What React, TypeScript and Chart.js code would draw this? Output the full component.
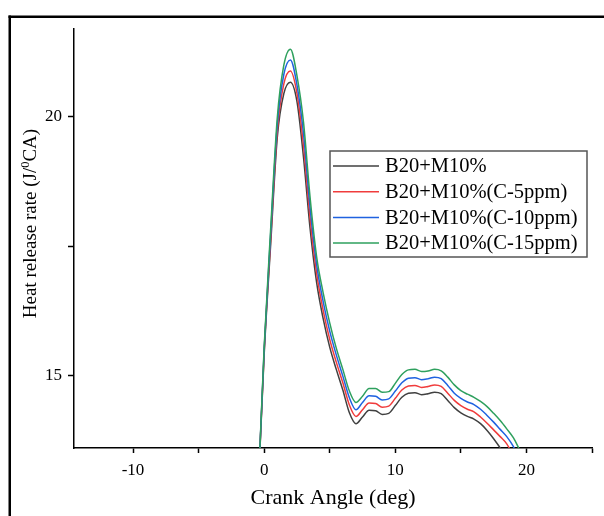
import React, { useEffect, useRef } from 'react';
import { Chart, registerables } from 'chart.js';

Chart.register(...registerables);

const crankAngles = [-0.5, 0, 0.5, 1, 1.5, 2, 2.5, 3, 3.5, 4, 4.5, 5, 5.5, 6, 6.5, 7, 7.5, 8, 8.5, 9, 9.5, 10, 10.5, 11, 11.5, 12, 12.5, 13, 13.5, 14, 14.5, 15, 15.5, 16, 16.5, 17, 17.5, 18, 18.5, 19, 19.5, 20];

const b20m10 = [12.5, 15.4, 17.55, 19.6, 20.45, 20.67, 20.3, 19.22, 17.85, 16.8, 16.1, 15.55, 15.12, 14.72, 14.28, 14.07, 14.2, 14.33, 14.32, 14.25, 14.27, 14.42, 14.58, 14.66, 14.67, 14.63, 14.65, 14.68, 14.65, 14.52, 14.38, 14.28, 14.21, 14.16, 14.07, 13.94, 13.78, 13.6, 13.38, 13.15, 12.9, 12.7];
const c5ppm = [12.5, 15.45, 17.65, 19.72, 20.64, 20.89, 20.46, 19.45, 18.05, 16.98, 16.26, 15.7, 15.26, 14.86, 14.43, 14.21, 14.34, 14.47, 14.46, 14.39, 14.41, 14.56, 14.72, 14.8, 14.81, 14.77, 14.79, 14.82, 14.79, 14.66, 14.52, 14.42, 14.35, 14.3, 14.2, 14.08, 13.95, 13.82, 13.68, 13.45, 13.2, 12.95];
const c10ppm = [12.5, 15.5, 17.75, 19.85, 20.82, 21.1, 20.62, 19.68, 18.25, 17.15, 16.43, 15.86, 15.4, 14.99, 14.57, 14.34, 14.48, 14.61, 14.6, 14.53, 14.55, 14.7, 14.86, 14.95, 14.96, 14.92, 14.94, 14.97, 14.94, 14.81, 14.66, 14.56, 14.49, 14.44, 14.35, 14.23, 14.1, 13.96, 13.82, 13.63, 13.35, 13.05];
const c15ppm = [12.5, 15.55, 17.85, 19.98, 21.0, 21.31, 20.8, 19.9, 18.45, 17.3, 16.6, 16.02, 15.53, 15.12, 14.7, 14.48, 14.6, 14.75, 14.75, 14.68, 14.69, 14.85, 15.02, 15.11, 15.12, 15.08, 15.09, 15.12, 15.09, 14.97, 14.82, 14.71, 14.64, 14.58, 14.5, 14.4, 14.27, 14.13, 13.97, 13.8, 13.55, 13.25];

const seriesLabels = ['B20+M10%', 'B20+M10%(C-5ppm)', 'B20+M10%(C-10ppm)', 'B20+M10%(C-15ppm)'];
const seriesColors = ['#404040', '#f03c3c', '#1f62e0', '#2ea05e'];
const xTickLabels = [-10, 0, 10, 20];
const yTickLabels = [15, 20];
const xTitle = 'Crank Angle (deg)';
const yTitleMain = 'Heat release rate (J/';
const yTitleSup = '0';
const yTitleEnd = 'CA)';

const FAMILY = '"Liberation Serif", "Times New Roman", serif';

const decorPlugin = {
  id: 'decor',
  afterDraw(chart: any) {
    const ctx = chart.ctx as CanvasRenderingContext2D;
    const area = chart.chartArea;
    ctx.save();
    // outer frame (top and left visible)
    ctx.fillStyle = '#000';
    ctx.fillRect(8.5, 15.5, 600, 2.5);
    ctx.fillRect(8.5, 15.5, 2.5, 510);

    // x title
    ctx.fillStyle = '#000';
    ctx.font = `22px ${FAMILY}`;
    ctx.textAlign = 'center';
    ctx.textBaseline = 'alphabetic';
    ctx.fillText(xTitle, (area.left + area.right) / 2, 504);

    // y title with superscript
    ctx.save();
    ctx.translate(36, 223.5);
    ctx.rotate(-Math.PI / 2);
    const mainFont = `19px ${FAMILY}`;
    const supFont = `12.5px ${FAMILY}`;
    ctx.textAlign = 'left';
    ctx.font = mainFont;
    const w1 = ctx.measureText(yTitleMain).width;
    const w3 = ctx.measureText(yTitleEnd).width;
    ctx.font = supFont;
    const w2 = ctx.measureText(yTitleSup).width;
    const total = w1 + w2 + w3;
    const x0 = -total / 2;
    ctx.font = mainFont;
    ctx.fillText(yTitleMain, x0, 0);
    ctx.font = supFont;
    ctx.fillText(yTitleSup, x0 + w1, -7.5);
    ctx.font = mainFont;
    ctx.fillText(yTitleEnd, x0 + w1 + w2, 0);
    ctx.restore();

    // legend
    const bx = 330, by = 151, bw = 257, bh = 106;
    ctx.fillStyle = '#fff';
    ctx.fillRect(bx, by, bw, bh);
    ctx.strokeStyle = '#555';
    ctx.lineWidth = 1.5;
    ctx.strokeRect(bx, by, bw, bh);
    ctx.font = `20.5px ${FAMILY}`;
    ctx.textAlign = 'left';
    ctx.textBaseline = 'middle';
    seriesLabels.forEach((label, i) => {
      const y = 166 + i * 25.7;
      ctx.strokeStyle = seriesColors[i];
      ctx.lineWidth = 1.5;
      ctx.beginPath();
      ctx.moveTo(333, y);
      ctx.lineTo(379, y);
      ctx.stroke();
      ctx.fillStyle = '#000';
      ctx.fillText(label, 385, y + 1);
    });
    ctx.restore();
  },
};

export default function App() {
  const canvasRef = useRef<HTMLCanvasElement | null>(null);

  useEffect(() => {
    if (!canvasRef.current) return;
    const seriesValues = [b20m10, c5ppm, c10ppm, c15ppm];
    const chart = new Chart(canvasRef.current, {
      type: 'line',
      data: {
        datasets: seriesValues.map((vals, i) => ({
          label: seriesLabels[i],
          data: crankAngles.map((x, j) => ({ x, y: vals[j] })),
          borderColor: seriesColors[i],
          backgroundColor: seriesColors[i],
          borderWidth: 1.5,
          pointRadius: 0,
          fill: false,
          cubicInterpolationMode: 'monotone',
          order: 3 - i,
        })),
      },
      options: {
        animation: false,
        responsive: false,
        maintainAspectRatio: false,
        layout: { padding: { top: 29, right: 12, left: 0, bottom: 0 } },
        plugins: {
          legend: { display: false },
          tooltip: { enabled: false },
          title: { display: false },
        },
        scales: {
          x: {
            type: 'linear',
            min: -14.5,
            max: 25,
            ticks: {
              stepSize: 5,
              includeBounds: false,
              autoSkip: false,
              maxRotation: 0,
              color: '#000',
              padding: 7,
              font: { family: FAMILY, size: 17 },
              callback: (v: any) => (xTickLabels.includes(Number(v)) ? String(v) : ''),
            },
            grid: {
              display: true,
              drawOnChartArea: false,
              drawTicks: true,
              tickLength: 5,
              tickWidth: 1.5,
              tickColor: '#000',
            },
            border: { display: true, color: '#000', width: 1.5 },
            afterFit: (s: any) => {
              s.height = 68;
            },
          },
          y: {
            type: 'linear',
            min: 13.6,
            max: 21.7,
            ticks: {
              stepSize: 2.5,
              includeBounds: false,
              autoSkip: false,
              color: '#000',
              padding: 6,
              font: { family: FAMILY, size: 17 },
              callback: (v: any) => (yTickLabels.includes(Number(v)) ? String(v) : ''),
            },
            grid: {
              display: true,
              drawOnChartArea: false,
              drawTicks: true,
              tickLength: 6,
              tickWidth: 1.5,
              tickColor: '#000',
            },
            border: { display: true, color: '#000', width: 1.5 },
            afterFit: (s: any) => {
              s.width = 74;
            },
          },
        },
      },
      plugins: [decorPlugin],
    });
    return () => chart.destroy();
  }, []);

  return (
    <div style={{ position: 'fixed', left: 0, top: 0, width: 604, height: 516, background: '#fff' }}>
      <canvas ref={canvasRef} width={604} height={516} style={{ display: 'block' }} />
    </div>
  );
}
